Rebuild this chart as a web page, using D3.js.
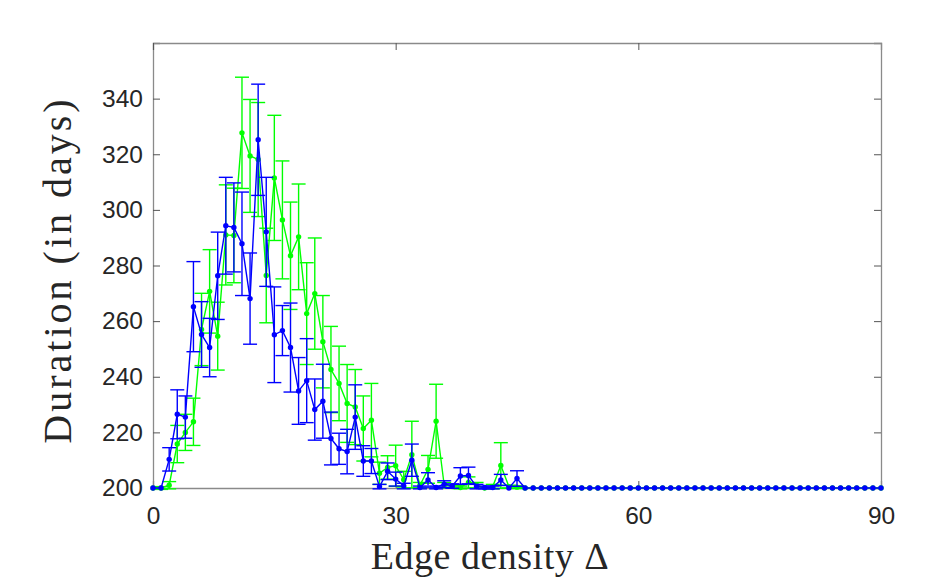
<!DOCTYPE html>
<html><head><meta charset="utf-8">
<script src="https://cdnjs.cloudflare.com/ajax/libs/d3/7.8.5/d3.min.js"></script>
<style>body{margin:0;background:#fff}</style>
</head><body>
<svg id="c" width="939" height="578"></svg>
<script>
const xValues = [0,1,2,3,4,5,6,7,8,9,10,11,12,13,14,15,16,17,18,19,20,21,22,23,24,25,26,27,28,29,30,31,32,33,34,35,36,37,38,39,40,41,42,43,44,45,46,47,48,49,50,51,52,53,54,55,56,57,58,59,60,61,62,63,64,65,66,67,68,69,70,71,72,73,74,75,76,77,78,79,80,81,82,83,84,85,86,87,88,89,90];
const blueMean = [200,200,210.3,226.5,225.5,265.2,255.2,250.5,276.3,294.3,293.7,287.8,268.1,325.2,292.1,255.1,256.6,250.5,234.9,238.6,228.2,231.2,217.8,214.1,213.1,225.5,209.7,209.7,200.5,206,203.2,200.7,210,200.2,202.9,200.2,201.4,200.7,204.3,204.5,200.5,200.2,200.2,202.9,200,203.4,200,200,200,200,200,200,200,200,200,200,200,200,200,200,200,200,200,200,200,200,200,200,200,200,200,200,200,200,200,200,200,200,200,200,200,200,200,200,200,200,200,200,200,200,200];
const blueErr = [0,0,4.2,8.8,7.6,16.2,11.8,10.5,15.7,17.4,16,18.6,16.4,20,19.6,17.2,9,16,12,15.1,11,13.3,9.5,5.6,8,11.6,5.5,4.5,0.8,3,2.5,1,5.8,0.5,2.6,0.5,1.2,0.8,3,3,0.8,0.5,0.5,2,0,2.8,0,0,0,0,0,0,0,0,0,0,0,0,0,0,0,0,0,0,0,0,0,0,0,0,0,0,0,0,0,0,0,0,0,0,0,0,0,0,0,0,0,0,0,0,0];
const greenMean = [200,200,201,215.8,220,223.8,257,270.7,254.6,291,290.8,327.7,319.4,318.1,276.4,311.5,296.4,283.5,290.3,262.7,269.9,252.6,242.6,237.6,230.4,229.1,221.4,224.4,205.3,207.4,208,203,212,201,206.7,224,201,200.5,200.2,202,201,200,200.5,208.1,200.5,200.3,200,200,200,200,200,200,200,200,200,200,200,200,200,200,200,200,200,200,200,200,200,200,200,200,200,200,200,200,200,200,200,200,200,200,200,200,200,200,200,200,200,200,200,200,200];
const greenErr = [0,0.5,1.3,6.7,6.5,8.5,13,15,12.2,18,17,20,20.3,20.5,17,22.5,21.2,19.3,19,18.3,20,16.6,15.5,13.4,14,13.5,11.7,13.2,4,4.2,7.4,3,12,1,5,13.3,1,0.5,0.5,2,1,0,0.8,8.2,0.5,0.5,0,0,0,0,0,0,0,0,0,0,0,0,0,0,0,0,0,0,0,0,0,0,0,0,0,0,0,0,0,0,0,0,0,0,0,0,0,0,0,0,0,0,0,0,0];
const xTicks = [0,30,60,90];
const yTicks = [200,220,240,260,280,300,320,340];
const xLabel = "Edge density Δ";
const yLabel = "Duration (in days)";

const svg = d3.select("#c");
const L=153, R=881, T=43, B=488;
const x = d3.scaleLinear().domain([0,90]).range([L,R]);
const y = d3.scaleLinear().domain([200,360]).range([B,T]);
const axisColor = "#8a8a8a";
const tickLen = 7;

const xa = svg.append("g").attr("transform",`translate(0,${B})`)
  .call(d3.axisBottom(x).tickValues(xTicks).tickSize(-tickLen).tickPadding(19).tickFormat(d3.format("d")));
const ya = svg.append("g").attr("transform",`translate(${L},0)`)
  .call(d3.axisLeft(y).tickValues(yTicks).tickSize(-tickLen).tickPadding(10).tickFormat(d3.format("d")));
const xt = svg.append("g").attr("transform",`translate(0,${T})`)
  .call(d3.axisTop(x).tickValues(xTicks).tickSize(-tickLen).tickFormat(""));
const yr = svg.append("g").attr("transform",`translate(${R},0)`)
  .call(d3.axisRight(y).tickValues(yTicks).tickSize(-tickLen).tickFormat(""));
[xa,ya,xt,yr].forEach(g=>{
  g.selectAll("path.domain").attr("stroke",axisColor).attr("stroke-width",1.3);
  g.selectAll(".tick line").attr("stroke","#555").attr("stroke-width",1);
  g.selectAll(".tick text").attr("fill","#262626").style("font-family","'Liberation Sans', Arial, sans-serif").style("font-size","24.5px");
});

function series(mean, err, color){
  const g = svg.append("g");
  const cap = 7;
  xValues.forEach((xv,i)=>{
    const e = err[i];
    if(e<=0) return;
    const cx = x(xv), yt = y(mean[i]+e), yb = y(mean[i]-e);
    g.append("line").attr("x1",cx).attr("x2",cx).attr("y1",yt).attr("y2",yb);
    g.append("line").attr("x1",cx-cap).attr("x2",cx+cap).attr("y1",yt).attr("y2",yt);
    g.append("line").attr("x1",cx-cap).attr("x2",cx+cap).attr("y1",yb).attr("y2",yb);
  });
  g.selectAll("line").attr("stroke",color).attr("stroke-width",1.4);
  const line = d3.line().x((d,i)=>x(xValues[i])).y(d=>y(d));
  svg.append("path").datum(mean).attr("d",line).attr("fill","none").attr("stroke",color).attr("stroke-width",1.4);
  svg.append("g").selectAll("circle").data(mean).join("circle")
    .attr("cx",(d,i)=>x(xValues[i])).attr("cy",d=>y(d)).attr("r",2.7).attr("fill",color);
}
series(greenMean, greenErr, "#00ff00");
series(blueMean, blueErr, "#0000ff");

svg.append("text").attr("x",490).attr("y",569).attr("text-anchor","middle")
  .style("font-family","'Liberation Serif','DejaVu Serif',serif").style("font-size","38px")
  .style("letter-spacing","0.5px").attr("fill","#262626").text(xLabel);
svg.append("text").attr("transform",`translate(71,270) rotate(-90)`).attr("text-anchor","middle")
  .style("font-family","'Liberation Serif','DejaVu Serif',serif").style("font-size","40px")
  .style("letter-spacing","3px").attr("fill","#262626").text(yLabel);
</script>
</body></html>
